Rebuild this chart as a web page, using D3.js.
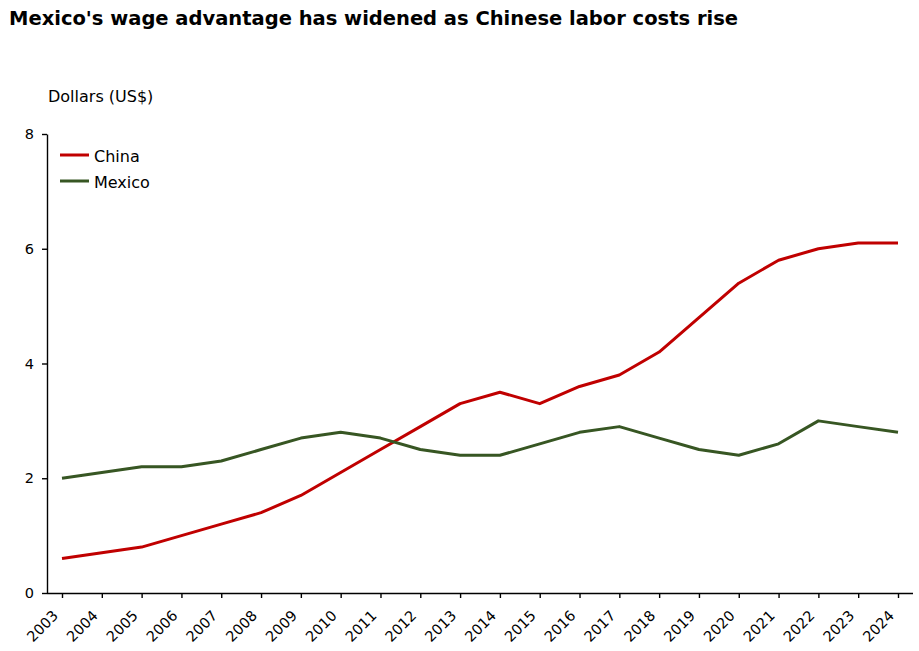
<!DOCTYPE html>
<html lang="en">
<head>
<meta charset="UTF-8">
<title>Mexico vs China wages</title>
<script src="https://cdn.jsdelivr.net/npm/d3@7"></script>
<style>
  body { margin: 0; background: #fff; font-family: "DejaVu Sans", sans-serif; }
  .axis text { font-family: "DejaVu Sans", sans-serif; font-size: 14.5px; fill: #000; }
  .axis path, .axis line { stroke: #000; stroke-width: 1.4; }
</style>
</head>
<body>
<svg id="chart" width="919" height="651"></svg>
<script>
// data
const years = ["2003","2004","2005","2006","2007","2008","2009","2010","2011","2012","2013",
               "2014","2015","2016","2017","2018","2019","2020","2021","2022","2023","2024"];
const china  = [0.6,0.7,0.8,1.0,1.2,1.4,1.7,2.1,2.5,2.9,3.3,3.5,3.3,3.6,3.8,4.2,4.8,5.4,5.8,6.0,6.1,6.1];
const mexico = [2.0,2.1,2.2,2.2,2.3,2.5,2.7,2.8,2.7,2.5,2.4,2.4,2.6,2.8,2.9,2.7,2.5,2.4,2.6,3.0,2.9,2.8];
const yTicks = [0, 2, 4, 6, 8];

const series = [
  { name: "China",  values: china,  color: "#c00000" },
  { name: "Mexico", values: mexico, color: "#375623" }
];

const svg = d3.select("#chart");
const plotLeft = 47, plotRight = 913, plotTop = 134, plotBottom = 593;

const x = d3.scalePoint().domain(years).range([62, 898]);
const y = d3.scaleLinear().domain([0, 8]).range([plotBottom, plotTop]);

svg.append("text")
  .attr("x", 9).attr("y", 25)
  .attr("font-size", 19.5).attr("font-weight", "bold")
  .text("Mexico's wage advantage has widened as Chinese labor costs rise");

svg.append("text")
  .attr("x", 48).attr("y", 102)
  .attr("font-size", 16)
  .text("Dollars (US$)");

// y axis
svg.append("g")
  .attr("class", "axis")
  .attr("transform", `translate(${plotLeft},0)`)
  .call(d3.axisLeft(y).tickValues(yTicks).tickSize(5).tickSizeOuter(0).tickPadding(8));

// x axis
const xAxis = svg.append("g")
  .attr("class", "axis")
  .attr("transform", `translate(0,${plotBottom})`)
  .call(d3.axisBottom(x).tickSize(5).tickSizeOuter(0));
xAxis.select(".domain").attr("d", `M${plotLeft},0.5H${plotRight}`);
xAxis.selectAll("text")
  .attr("text-anchor", "end")
  .attr("x", 0).attr("y", 0)
  .attr("dy", "0.35em")
  .attr("transform", "translate(-7,20) rotate(-45)");

const line = d3.line()
  .x((d, i) => x(years[i]))
  .y(d => y(d));

svg.selectAll(".series")
  .data(series)
  .enter()
  .append("path")
  .attr("class", "series")
  .attr("fill", "none")
  .attr("stroke", d => d.color)
  .attr("stroke-width", 3)
  .attr("stroke-linejoin", "round")
  .attr("d", d => line(d.values));

// legend
const legend = svg.selectAll(".legend")
  .data(series)
  .enter()
  .append("g")
  .attr("class", "legend")
  .attr("transform", (d, i) => `translate(60,${155 + i * 26})`);
legend.append("line")
  .attr("x1", 0).attr("x2", 29)
  .attr("stroke", d => d.color)
  .attr("stroke-width", 3);
legend.append("text")
  .attr("x", 34).attr("y", 6.5)
  .attr("font-size", 16)
  .text(d => d.name);
</script>
</body>
</html>
